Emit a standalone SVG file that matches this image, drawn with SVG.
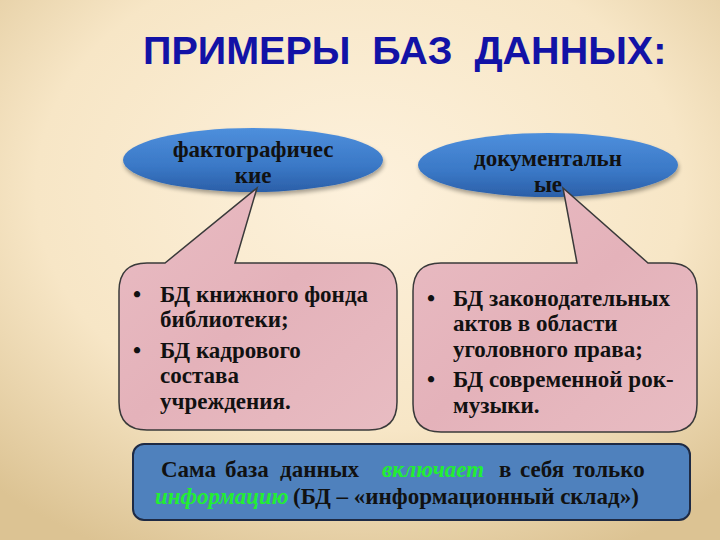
<svg xmlns="http://www.w3.org/2000/svg" width="720" height="540" viewBox="0 0 720 540">
<defs>
<radialGradient id="bg" cx="50%" cy="35%" r="75%">
<stop offset="0" stop-color="#fdf1dc"/>
<stop offset="0.6" stop-color="#f7e6c6"/>
<stop offset="1" stop-color="#dcc393"/>
</radialGradient>
<linearGradient id="ell" x1="0" y1="0" x2="0" y2="1">
<stop offset="0" stop-color="#4e8fdc"/>
<stop offset="0.6" stop-color="#3a78c6"/>
<stop offset="1" stop-color="#2b5fa8"/>
</linearGradient>
<linearGradient id="pink" x1="0" y1="0" x2="1" y2="1">
<stop offset="0" stop-color="#e9bcc3"/>
<stop offset="0.5" stop-color="#e4b2ba"/>
<stop offset="1" stop-color="#e8bcc2"/>
</linearGradient>
<filter id="sh" x="-10%" y="-10%" width="120%" height="130%">
<feGaussianBlur in="SourceAlpha" stdDeviation="2"/>
<feOffset dx="1" dy="3"/>
<feComponentTransfer><feFuncA type="linear" slope="0.35"/></feComponentTransfer>
<feMerge><feMergeNode/><feMergeNode in="SourceGraphic"/></feMerge>
</filter>
</defs>
<style>
.title{font-weight:bold;font-size:39.5px;fill:#1212a6}
.s{font-weight:bold;font-size:23px;fill:#111}
.call{fill:url(#pink);stroke:#3a3a3a;stroke-width:1.5}
.g{fill:#22ee33;font-style:italic}
</style>
<rect width="720" height="540" fill="url(#bg)"/>
<text class="title" font-family="Liberation Sans, sans-serif" x="143" y="64" xml:space="preserve">ПРИМЕРЫ  БАЗ  ДАННЫХ:</text>

<g id="node-fact" font-family="Liberation Serif, serif">
<ellipse cx="253" cy="160" rx="130" ry="32" fill="url(#ell)" filter="url(#sh)"/>
<text class="s" x="253" y="157" text-anchor="middle">фактографичес</text>
<text class="s" x="253" y="183" text-anchor="middle">кие</text>
</g>
<g id="node-doc" font-family="Liberation Serif, serif">
<ellipse cx="548" cy="165" rx="130" ry="32" fill="url(#ell)" filter="url(#sh)"/>
<text class="s" x="548" y="166" text-anchor="middle">документальн</text>
<text class="s" x="548" y="192" text-anchor="middle">ые</text>
</g>

<g id="connectors">
<g id="callout-1">
<path class="call" d="M147,263 L165,263 L257,188 L235,263 L369,263 Q397,263 397,291 L397,402 Q397,430 369,430 L147,430 Q119,430 119,402 L119,291 Q119,263 147,263 Z"/>
</g>
<g id="callout-2">
<path class="call" d="M441,263 L577,263 L563,188 L648,263 L669,263 Q697,263 697,291 L697,404 Q697,432 669,432 L441,432 Q413,432 413,404 L413,291 Q413,263 441,263 Z"/>
</g>
</g>

<g id="node-list-1" font-family="Liberation Serif, serif">
<text class="s" x="133" y="302">•</text>
<text class="s" x="160" y="302">БД книжного фонда</text>
<text class="s" x="160" y="327">библиотеки;</text>
<text class="s" x="133" y="358">•</text>
<text class="s" x="160" y="358">БД кадрового</text>
<text class="s" x="160" y="383">состава</text>
<text class="s" x="160" y="409">учреждения.</text>
</g>
<g id="node-list-2" font-family="Liberation Serif, serif">
<text class="s" x="427" y="306">•</text>
<text class="s" x="453" y="306">БД законодательных</text>
<text class="s" x="453" y="331">актов в области</text>
<text class="s" x="453" y="357">уголовного права;</text>
<text class="s" x="427" y="387">•</text>
<text class="s" x="453" y="387">БД современной рок-</text>
<text class="s" x="453" y="413">музыки.</text>
</g>

<g id="node-note" font-family="Liberation Serif, serif">
<rect x="133" y="444" width="557" height="76" rx="11" fill="#4f81bd" stroke="#1e2a44" stroke-width="2"/>
<text class="s" y="477"><tspan x="161">Сама</tspan><tspan x="225">база</tspan><tspan x="280">данных</tspan><tspan x="382" class="g">включает</tspan><tspan x="499">в</tspan><tspan x="520">себя</tspan><tspan x="573">только</tspan></text>
<text class="s" y="504"><tspan x="155" class="g">информацию</tspan><tspan x="293">(БД – «информационный склад»)</tspan></text>
</g>
</svg>
